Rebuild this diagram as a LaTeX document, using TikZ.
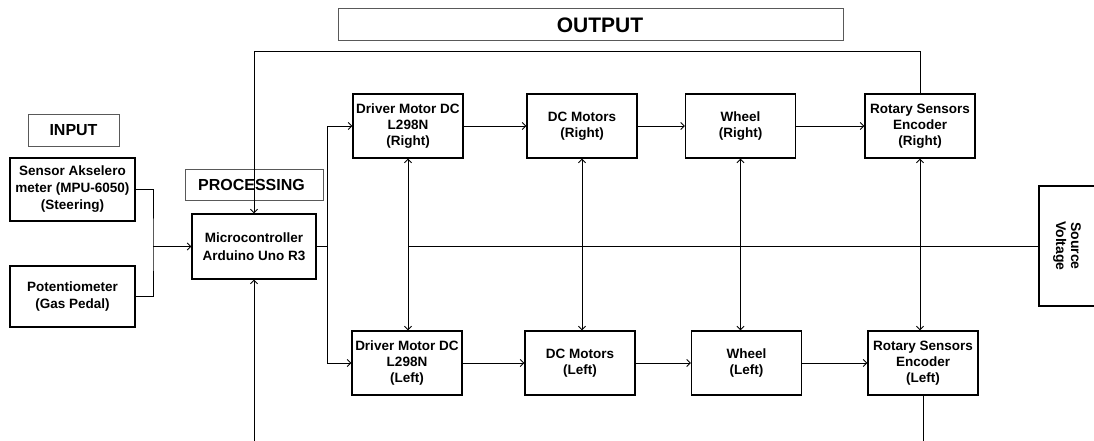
\documentclass[tikz,border=0pt]{standalone}
\usepackage{fontspec}
\setmainfont{Liberation Sans}
\usetikzlibrary{arrows.meta}
\begin{document}
\begin{tikzpicture}[x=1pt,y=-1pt,
  box/.style={draw=black,line width=1.3pt,fill=white,align=center,inner sep=0pt,
    font=\bfseries\fontsize{13.5}{16}\selectfont,minimum width=110pt,minimum height=64pt},
  lab/.style={draw=black!65,line width=1pt,inner sep=0pt,font=\bfseries\fontsize{16}{19}\selectfont},
  conn/.style={line width=0.9pt,-{Straight Barb[length=3.5pt,width=7pt]}},
  plain/.style={line width=0.9pt},
  dbl/.style={line width=0.9pt,{Straight Barb[length=3.5pt,width=7pt]}-{Straight Barb[length=3.5pt,width=7pt]}}]
\useasboundingbox (0,0) rectangle (1094,441);

% label boxes
\node[lab,minimum width=505pt,minimum height=32pt,font=\bfseries\fontsize{21}{24}\selectfont] (out) at (590.5,25) {\hspace*{19pt}OUTPUT};
\node[lab,minimum width=91pt,minimum height=31pt] (in) at (73.5,130.5) {INPUT};
\node[lab,minimum width=138pt,minimum height=31pt] (proc) at (254,184.5) {PROCESSING\hspace*{5pt}};

% input boxes
\node[box,minimum width=125pt,minimum height=63pt,font=\bfseries\fontsize{13.5}{17}\selectfont] (sens) at (72.5,189.5) {Sensor Akselero\\meter (MPU-6050)\\(Steering)};
\node[box,minimum width=125pt,minimum height=61pt,font=\bfseries\fontsize{13.5}{17}\selectfont] (pot) at (72.5,296.5) {Potentiometer\\(Gas Pedal)};

% processing
\node[box,minimum width=124pt,minimum height=65pt,font=\bfseries\fontsize{13.5}{18}\selectfont] (mcu) at (254,246.5) {Microcontroller\\Arduino Uno R3};

% output row right
\node[box] (drR) at (408,126) {Driver Motor DC\\L298N\\(Right)};
\node[box] (dcR) at (582,126) {DC Motors\\(Right)};
\node[box] (whR) at (740.5,126) {Wheel\\(Right)};
\node[box] (encR) at (920,126) {Rotary Sensors\\Encoder\\(Right)};

% output row left
\node[box] (drL) at (407,363) {Driver Motor DC\\L298N\\(Left)};
\node[box] (dcL) at (580,363) {DC Motors\\(Left)};
\node[box] (whL) at (746.5,363) {Wheel\\(Left)};
\node[box] (encL) at (923,363) {Rotary Sensors\\Encoder\\(Left)};

% source voltage
\node[box,rotate=-90,minimum width=120pt,minimum height=56pt,font=\bfseries\fontsize{14}{15}\selectfont] (src) at (1067,246) {Source\\Voltage};

% junction coordinates
\coordinate (j) at (153,246.5);
\coordinate (k) at (327,246.5);
\coordinate (topL) at (254,51);
\coordinate (botL) at (254,441.8);

% input connections
\draw[plain] (sens.east) -| (j) |- (pot.east);
\draw[conn] (j) -- (mcu.west);

% mcu to drivers
\draw[plain] (mcu.east) -- (k);
\draw[conn] (k) |- (drR.west);
\draw[conn] (k) |- (drL.west);

% chains
\draw[conn] (drR) -- (dcR);
\draw[conn] (dcR) -- (whR);
\draw[conn] (whR) -- (encR);
\draw[conn] (drL) -- (dcL);
\draw[conn] (dcL) -- (whL);
\draw[conn] (whL) -- (encL);

% vertical double arrows
\draw[dbl] (drR.south) -- (drR.south |- drL.north);
\draw[dbl] (dcR.south) -- (dcR.south |- dcL.north);
\draw[dbl] (whR.south) -- (whR.south |- whL.north);
\draw[dbl] (encR.south) -- (encR.south |- encL.north);

% source voltage line
\draw[plain] (drR.south |- src.south) -- (src.south);

% feedback loops
\draw[conn] (encR.north) |- (topL) -- (mcu.north);
\draw[conn] (encL.south) |- (botL) -- (mcu.south);
\end{tikzpicture}
\end{document}
